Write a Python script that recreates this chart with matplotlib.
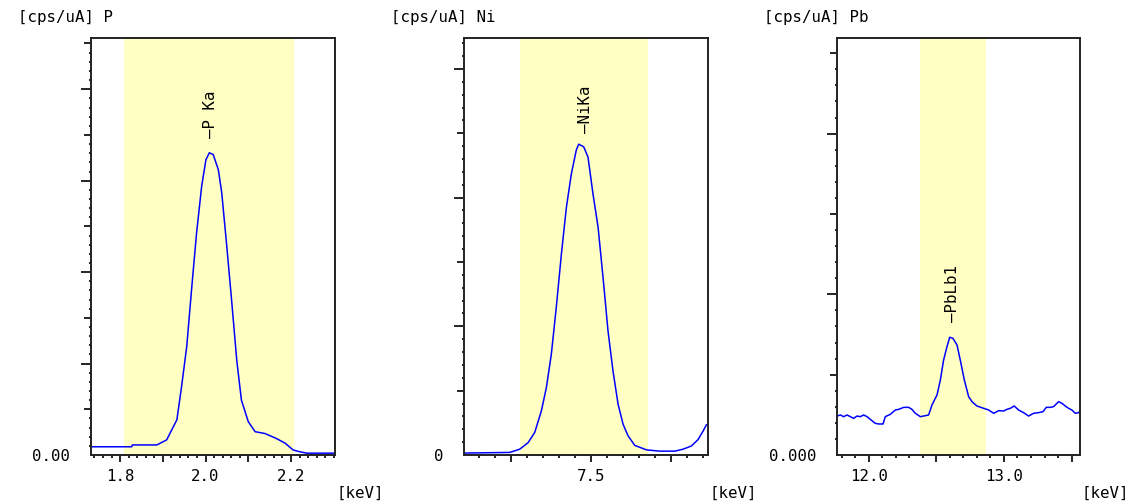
import numpy as np
import matplotlib
matplotlib.use('Agg')
import matplotlib.pyplot as plt
from matplotlib.ticker import MultipleLocator

# ---- data (x in keV, y in tick units) ----
p_kev = [1.734, 1.827, 1.829, 1.886, 1.909, 1.933, 1.944, 1.956, 1.968, 1.979,
         1.991, 2.001, 2.009, 2.018, 2.030, 2.038, 2.049, 2.061, 2.073, 2.084,
         2.100, 2.116, 2.139, 2.166, 2.186, 2.205, 2.221, 2.237, 2.301]
p_cps = [0.18, 0.18, 0.22, 0.22, 0.33, 0.77, 1.50, 2.37, 3.69, 4.85,
         5.88, 6.46, 6.61, 6.57, 6.24, 5.73, 4.64, 3.39, 2.08, 1.20,
         0.73, 0.51, 0.47, 0.36, 0.26, 0.11, 0.07, 0.04, 0.04]

ni_kev = [6.704, 6.990, 7.052, 7.104, 7.146, 7.188, 7.219, 7.250, 7.281, 7.313,
          7.344, 7.375, 7.406, 7.421, 7.452, 7.479, 7.510, 7.542, 7.573, 7.604,
          7.635, 7.667, 7.698, 7.729, 7.771, 7.844, 7.927, 8.021, 8.073, 8.125,
          8.167, 8.198, 8.219]
ni_cps = [0.03, 0.04, 0.09, 0.19, 0.35, 0.69, 1.05, 1.57, 2.30, 3.13,
          3.85, 4.37, 4.74, 4.83, 4.79, 4.63, 4.06, 3.54, 2.76, 1.93,
          1.31, 0.79, 0.48, 0.30, 0.15, 0.08, 0.06, 0.06, 0.09, 0.14,
          0.24, 0.37, 0.47]

pb_kev = [11.766, 11.791, 11.815, 11.840, 11.865, 11.889, 11.914, 11.938, 11.963, 11.988,
          12.012, 12.049, 12.074, 12.106, 12.123, 12.160, 12.197, 12.222, 12.259, 12.296,
          12.320, 12.345, 12.382, 12.406, 12.443, 12.468, 12.505, 12.530, 12.554, 12.579,
          12.599, 12.623, 12.653, 12.677, 12.707, 12.739, 12.764, 12.800, 12.850, 12.887,
          12.924, 12.961, 12.998, 13.022, 13.047, 13.076, 13.108, 13.145, 13.182, 13.219,
          13.256, 13.288, 13.313, 13.342, 13.367, 13.404, 13.429, 13.453, 13.478, 13.502,
          13.527, 13.552, 13.564]
pb_cps = [0.485, 0.498, 0.477, 0.498, 0.477, 0.456, 0.485, 0.477, 0.498, 0.477,
          0.444, 0.394, 0.386, 0.386, 0.477, 0.506, 0.560, 0.568, 0.593, 0.593,
          0.568, 0.519, 0.477, 0.485, 0.498, 0.622, 0.747, 0.934, 1.183, 1.349,
          1.465, 1.452, 1.369, 1.183, 0.934, 0.726, 0.664, 0.610, 0.581, 0.560,
          0.519, 0.552, 0.548, 0.568, 0.581, 0.610, 0.560, 0.527, 0.485, 0.519,
          0.527, 0.539, 0.593, 0.593, 0.602, 0.664, 0.643, 0.610, 0.581, 0.560,
          0.519, 0.527, 0.552]

elements = ['P', 'Ni', 'Pb']
zero_labels = ['0.00', '0', '0.000']
xlims = [(1.732, 2.303), (6.704, 8.229), (11.766, 13.562)]
ylims = [9.12, 6.48, 5.19]
roi = [(1.81, 2.207), (7.052, 7.854), (12.382, 12.867)]
xmajor = [[1.8, 1.9, 2.0, 2.1, 2.2], [7.0, 7.5, 8.0], [12.0, 12.5, 13.0, 13.5]]
xmajor_labels = [['1.8', '', '2.0', '', '2.2'], ['', '7.5', ''], ['12.0', '', '13.0', '']]
xminor_step = [0.02, 0.1, 0.1]
peak_names = ['\u2014P Ka', '\u2014NiKa', '\u2014PbLb1']
peak_pos = [(2.012, 6.93), (7.465, 5.0), (12.616, 1.66)]
spectra = [(p_kev, p_cps), (ni_kev, ni_cps), (pb_kev, pb_cps)]

plt.rcParams['font.family'] = 'DejaVu Sans Mono'
fs = 11.3
fig = plt.figure(figsize=(11.37, 5.04), dpi=100)
lefts = [91, 464, 837]
widths = [244, 244, 243]

for i in range(3):
    ax = fig.add_axes([lefts[i] / 1137, 49 / 504, widths[i] / 1137, 417 / 504])
    ax.axvspan(*roi[i], color='#ffffc4', lw=0, zorder=0)
    ax.plot(spectra[i][0], spectra[i][1], color='#0000ff', lw=1.1, zorder=2)
    ax.set_xlim(*xlims[i])
    ax.set_ylim(0, ylims[i])

    ax.text(peak_pos[i][0], peak_pos[i][1], peak_names[i], rotation=90,
            ha='center', va='bottom', fontsize=fs)

    # x ticks
    ax.set_xticks(xmajor[i])
    ax.set_xticklabels(xmajor_labels[i])
    ax.xaxis.set_minor_locator(MultipleLocator(xminor_step[i]))
    ax.tick_params(axis='x', which='major', direction='out', length=5, width=1.2,
                   labelsize=fs, pad=5)
    ax.tick_params(axis='x', which='minor', direction='out', length=2, width=1.2)

    # y ticks: long at even, medium at odd, small every 0.2
    ylocs = list(range(0, int(ylims[i]) + 1))
    ax.set_yticks(ylocs)
    ax.set_yticklabels([zero_labels[i]] + [''] * (len(ylocs) - 1))
    ax.yaxis.set_minor_locator(MultipleLocator(0.2))
    ax.tick_params(axis='y', which='major', direction='out', length=7, width=1.2,
                   labelsize=fs, pad=8)
    ax.tick_params(axis='y', which='minor', direction='out', length=1.6, width=1.2)
    for v, t in zip(ylocs, ax.yaxis.get_major_ticks()):
        if v == 0:
            t.tick1line.set_visible(False)
        elif v % 2 == 1:
            t.tick1line.set_markersize(4.8)

    for s in ax.spines.values():
        s.set_linewidth(1.4)
        s.set_color('#222222')

    ax.text(-0.30, 1.05, '[cps/uA] ' + elements[i], transform=ax.transAxes,
            ha='left', va='center', fontsize=fs)
    ax.text(1.008, -0.091, '[keV]', transform=ax.transAxes,
            ha='left', va='center', fontsize=fs)

fig.savefig('out.png', dpi=100, facecolor='white')
